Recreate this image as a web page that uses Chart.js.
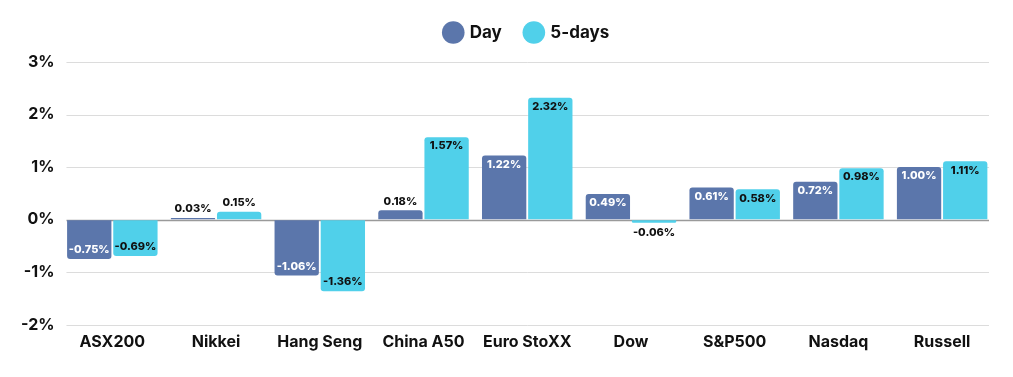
<!DOCTYPE html>
<html>
<head>
<meta charset="utf-8">
<script src="https://cdn.jsdelivr.net/npm/chart.js@4"></script>
<style>
  html, body { margin: 0; padding: 0; background: #fff; }
  #wrap { width: 1013px; height: 377px; }
</style>
</head>
<body>
<div id="wrap"><canvas id="marketChart"></canvas></div>
<script>
// data
const markets = ["ASX200", "Nikkei", "Hang Seng", "China A50", "Euro StoXX", "Dow", "S&P500", "Nasdaq", "Russell"];
const dayMoves = [-0.75, 0.03, -1.06, 0.18, 1.22, 0.49, 0.61, 0.72, 1.00];
const fiveDayMoves = [-0.69, 0.15, -1.36, 1.57, 2.32, -0.06, 0.58, 0.98, 1.11];
const yTicks = [-2, -1, 0, 1, 2, 3];

const DAY_COLOR = "#5b76ab";
const FIVE_COLOR = "#50d0ea";
const FONT = "Inter, 'Open Sans', sans-serif";

// draws the % value on each bar (inside if it fits, outside otherwise)
const barLabels = {
    id: "barLabels",
    afterDatasetsDraw(chart) {
        const ctx = chart.ctx;
        ctx.save();
        ctx.font = "800 11px " + FONT;
        ctx.textAlign = "center";
        ctx.textBaseline = "middle";
        chart.data.datasets.forEach((ds, di) => {
            const meta = chart.getDatasetMeta(di);
            meta.data.forEach((bar, i) => {
                const v = ds.data[i];
                const h = Math.abs(bar.base - bar.y);
                const txt = v.toFixed(2) + "%";
                let y;
                if (h > 20) {
                    y = v >= 0 ? bar.y + 9 : bar.y - 9;
                    ctx.fillStyle = di === 0 ? "#ffffff" : "#111111";
                } else {
                    y = v >= 0 ? bar.y - 9 : bar.y + 10;
                    ctx.fillStyle = "#111111";
                }
                ctx.fillText(txt, bar.x, y);
            });
        });
        ctx.restore();
    }
};

// horizontal grid lines, slightly inset from the category edges
const insetGrid = {
    id: "insetGrid",
    beforeDatasetsDraw(chart) {
        const ctx = chart.ctx;
        const y = chart.scales.y;
        const { left, right } = chart.chartArea;
        ctx.save();
        yTicks.forEach(v => {
            const py = Math.round(y.getPixelForValue(v)) + 0.5;
            ctx.strokeStyle = v === 0 ? "#9a9a9a" : "#dcdcdc";
            ctx.lineWidth = v === 0 ? 1.5 : 1;
            ctx.beginPath();
            ctx.moveTo(left + 6, py);
            ctx.lineTo(right - 5, py);
            ctx.stroke();
        });
        ctx.restore();
    }
};

// fixed legend height, legend centred over the plot area
const legendBox = {
    id: "legendBox",
    beforeInit(chart) {
        const fit = chart.legend.fit;
        chart.legend.fit = function () {
            fit.bind(chart.legend)();
            this.height = 62;
        };
    },
    afterLayout(chart) {
        chart.legend.left = chart.chartArea.left;
        chart.legend.right = chart.chartArea.right;
    }
};

new Chart(document.getElementById("marketChart"), {
    type: "bar",
    data: {
        labels: markets,
        datasets: [
            { label: "Day", data: dayMoves, backgroundColor: DAY_COLOR, borderRadius: 3, borderSkipped: "start" },
            { label: "5-days", data: fiveDayMoves, backgroundColor: FIVE_COLOR, borderRadius: 3, borderSkipped: "start" }
        ]
    },
    options: {
        responsive: true,
        maintainAspectRatio: false,
        animation: false,
        categoryPercentage: 0.89,
        barPercentage: 0.96,
        layout: { padding: { left: 15, right: 19, top: 0, bottom: 25 } },
        plugins: {
            legend: {
                position: "top",
                labels: {
                    usePointStyle: true,
                    pointStyle: "circle",
                    boxWidth: 16,
                    boxHeight: 16,
                    padding: 24,
                    color: "#111",
                    font: { family: FONT, size: 17, weight: "bold" }
                }
            },
            tooltip: { enabled: false }
        },
        scales: {
            x: {
                grid: { display: false },
                border: { display: false },
                ticks: { color: "#111", font: { family: FONT, size: 16, weight: "bold" }, padding: 0 }
            },
            y: {
                min: -2,
                max: 3,
                afterBuildTicks: axis => { axis.ticks = yTicks.map(v => ({ value: v })); },
                border: { display: false },
                grid: { drawOnChartArea: false, drawTicks: false },
                ticks: {
                    color: "#111",
                    padding: 6,
                    font: { family: FONT, size: 16, weight: "bold" },
                    callback: v => v + "%"
                }
            }
        }
    },
    plugins: [barLabels, insetGrid, legendBox]
});
</script>
</body>
</html>
